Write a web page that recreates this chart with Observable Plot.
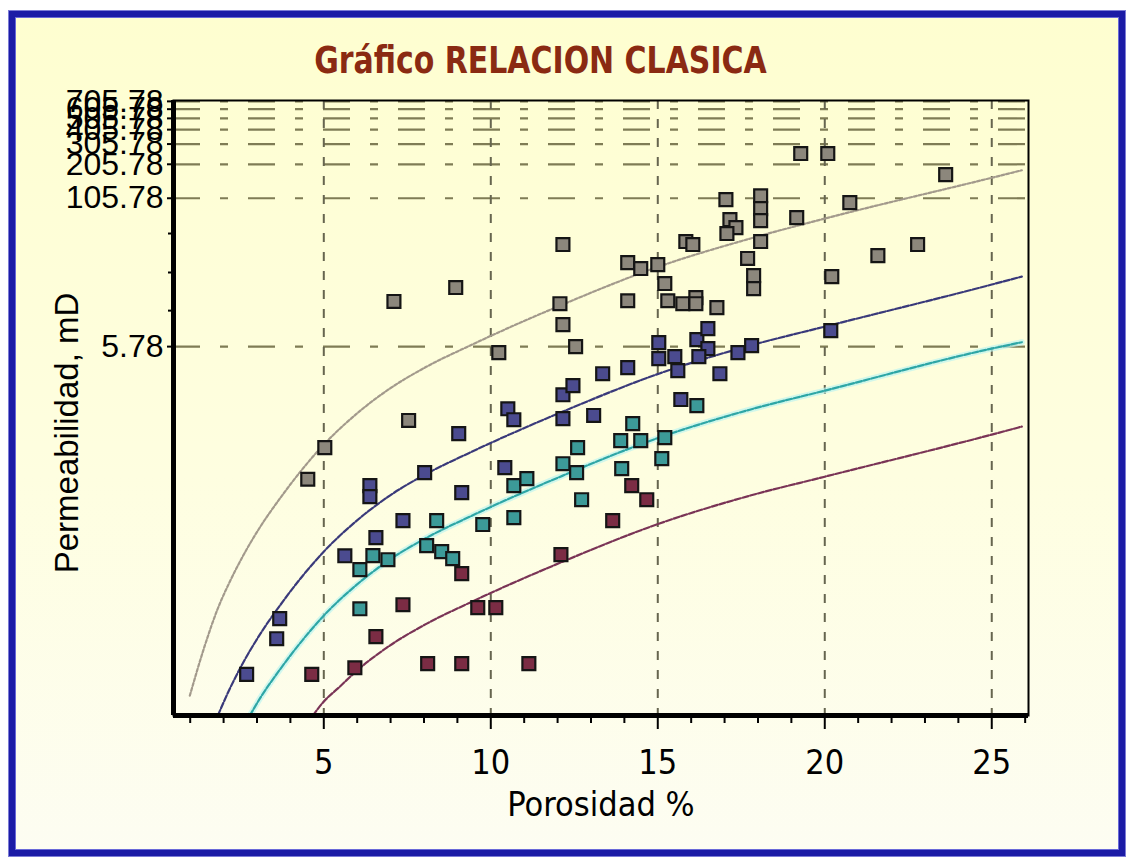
<!DOCTYPE html>
<html>
<head>
<meta charset="utf-8">
<script src="https://cdn.jsdelivr.net/npm/d3@7"></script>
<script src="https://cdn.jsdelivr.net/npm/@observablehq/plot@0.6"></script>
<style>
  html, body { margin: 0; padding: 0; background: #ffffff; }
  body { width: 1132px; height: 864px; position: relative; overflow: hidden; }
  #panel {
    position: absolute; left: 9px; top: 11px; width: 1104px; height: 833px;
    border: 6px solid #1b1ba6;
    box-shadow: inset 0 0 0 1px #6a6ad8, 0 0 0 1px #7c7cd6;
    background: linear-gradient(#fefed0, #fefee0 55%, #fdfdf2);
  }
  #title {
    position: absolute; left: 0; top: 42px; width: 1080px; text-align: center;
  }
  #title span {
    display: inline-block; transform: scaleX(0.9); transform-origin: center;
    font: bold 37px/37px "Liberation Sans Narrow", "DejaVu Sans Condensed", sans-serif;
    color: #8a2a12;
  }
  #chart { position: absolute; left: 0; top: 90px; }
</style>
</head>
<body>
<div id="panel"></div>
<div id="title"><span>Gráfico RELACION CLASICA</span></div>
<div id="chart"></div>
<script>
// Porosity (%) axis
const xDomain = [0.5, 26.1];
const xTicks = [5, 10, 15, 20, 25];
const xMinorTicks = [1, 2, 3, 4, 6, 7, 8, 9, 11, 12, 13, 14, 16, 17, 18, 19, 21, 22, 23, 24, 26];

// Permeability (mD) axis, logarithmic
const yDomain = [0.0042, 718];
const yTicks = [5.78, 105.78, 205.78, 305.78, 405.78, 505.78, 605.78, 705.78];
const yMinorTicks = [11.7, 24.7, 53];

// Samples per rock class: [porosity %, permeability mD]
const claseGris = [
  [7.10, 14.0], [8.95, 18.4], [7.54, 1.36], [5.03, 0.80], [4.52, 0.43],
  [12.16, 42.7], [14.10, 30.0], [14.49, 26.7], [15.0, 28.8], [14.10, 14.2],
  [12.07, 13.4], [12.16, 8.9], [12.54, 5.78], [10.24, 5.14], [15.21, 19.9],
  [15.30, 14.2], [15.75, 13.4], [16.14, 15.1], [16.14, 13.4], [16.77, 12.4],
  [15.84, 45.3], [16.05, 42.7], [17.04, 103], [17.16, 69.7], [17.34, 59.5],
  [17.07, 53.0], [17.69, 32.5], [17.87, 23.2], [17.87, 18.0], [18.08, 111],
  [18.08, 86.4], [18.08, 68.3], [18.08, 45.3], [19.16, 72.4], [19.28, 254],
  [20.09, 254], [20.75, 97.2], [23.62, 168], [21.59, 34.4], [22.78, 42.7],
  [20.21, 22.8]
];
const claseAzul = [
  [2.69, 0.0094], [3.59, 0.0189], [3.68, 0.028], [6.38, 0.379], [6.38, 0.306],
  [5.63, 0.096], [6.56, 0.137], [7.37, 0.191], [8.02, 0.49], [9.13, 0.331],
  [9.04, 1.05], [10.51, 1.71], [10.69, 1.38], [10.42, 0.54], [12.16, 2.25],
  [12.46, 2.69], [12.16, 1.41], [13.08, 1.50], [13.35, 3.40], [14.10, 3.83],
  [15.03, 6.25], [15.03, 4.57], [15.51, 4.75], [15.60, 3.61], [16.17, 6.63],
  [16.50, 8.22], [16.50, 5.56], [16.23, 4.75], [16.86, 3.40], [17.40, 5.14],
  [17.81, 5.89], [20.18, 7.91], [15.69, 2.05]
];
const claseTurquesa = [
  [6.08, 0.0731], [6.47, 0.0962], [6.92, 0.0889], [6.08, 0.034], [8.38, 0.191],
  [8.08, 0.117], [8.53, 0.104], [8.86, 0.0908], [9.76, 0.177], [10.69, 0.203],
  [10.69, 0.379], [11.08, 0.435], [12.16, 0.583], [12.60, 0.80], [12.57, 0.49],
  [12.72, 0.288], [13.89, 0.916], [14.25, 1.28], [14.49, 0.916], [13.92, 0.53],
  [15.21, 0.972], [15.12, 0.644], [16.17, 1.82]
];
const claseGranate = [
  [4.64, 0.0094], [5.93, 0.0107], [6.56, 0.0197], [7.37, 0.0368], [8.11, 0.0116],
  [9.13, 0.0116], [9.13, 0.0676], [9.61, 0.0348], [10.15, 0.0348], [11.14, 0.0116],
  [12.10, 0.0982], [13.65, 0.191], [14.22, 0.379], [14.67, 0.288]
];

// Classic porosity-permeability relation curves, one per class
const curvaGris = [
  [0.988, 0.00619], [1.437, 0.0165], [1.826, 0.0341], [2.186, 0.0578], [2.635, 0.102],
  [3.084, 0.167], [3.683, 0.294], [4.371, 0.529], [4.970, 0.830], [5.988, 1.555],
  [6.886, 2.44], [8.084, 3.91], [9.371, 5.89], [12.156, 13.2], [15.03, 27.7],
  [17.754, 47.9], [20.0, 71.0], [25.0, 158], [25.9, 183]
];
const curvaAzul = [
  [1.826, 0.00419], [2.186, 0.0071], [2.635, 0.01253], [3.084, 0.02046], [3.683, 0.0361],
  [4.371, 0.0650], [4.970, 0.102], [5.988, 0.191], [6.886, 0.300], [8.084, 0.480],
  [9.371, 0.724], [12.156, 1.618], [15.03, 3.40], [17.754, 5.89], [20.0, 8.55],
  [25.0, 19.5], [25.9, 22.8]
];
const curvaTurquesa = [
  [2.784, 0.00419], [3.084, 0.00584], [3.683, 0.0103], [4.371, 0.0185], [4.970, 0.0291],
  [5.988, 0.0545], [6.886, 0.0856], [8.084, 0.137], [9.371, 0.2065], [12.156, 0.4615],
  [15.03, 0.970], [17.754, 1.68], [20.0, 2.44], [25.0, 5.56], [25.9, 6.3]
];
const curvaGranate = [
  [4.671, 0.00419], [4.970, 0.0054], [5.479, 0.00739], [5.988, 0.0101], [6.886, 0.01587],
  [8.084, 0.0254], [9.371, 0.0383], [12.156, 0.0856], [15.03, 0.1798], [17.754, 0.3115],
  [20.0, 0.452], [25.0, 1.031], [25.9, 1.206]
];

const puntoColor = ["#8c877c", "#4b4b8f", "#3c9a98", "#7b2c44"];
const curvaColor = ["#a39a8c", "#3a3a7a", "#2ea6a6", "#7a3456"];
const curvaTrazo = ["3,2", "6,2", "6,2", "6,2"];

const clases = [claseGris, claseAzul, claseTurquesa, claseGranate];
const curvas = [curvaGris, curvaAzul, curvaTurquesa, curvaGranate];

const px = d => d[0], py = d => d[1];
const sans = "'Liberation Sans', Arial, sans-serif";
const narrow = "'Liberation Sans Narrow', 'DejaVu Sans Condensed', sans-serif";

const chart = Plot.plot({
  width: 1132,
  height: 774,
  marginLeft: 173,
  marginRight: 104,
  marginTop: 10,
  marginBottom: 149,
  style: { background: "none", fontFamily: sans, color: "#000", overflow: "visible" },
  x: { domain: xDomain },
  y: { type: "log", domain: yDomain },
  marks: [
    // dash-dot grid
    Plot.ruleY(yTicks, { stroke: "#7f7c55", strokeWidth: 2.2, strokeDasharray: "27,20,8,20" }),
    Plot.ruleX(xTicks, { stroke: "#66654f", strokeWidth: 2, strokeDasharray: "9,10" }),

    // soft halo under the turquoise curve
    Plot.line(curvaTurquesa, { x: px, y: py, stroke: "#bdf3f0", strokeWidth: 6, strokeOpacity: 0.7, curve: "monotone-x", clip: true }),

    // relation curves
    ...curvas.map((c, i) => Plot.line(c, {
      x: px, y: py, stroke: curvaColor[i], strokeWidth: 2.2,
      strokeDasharray: curvaTrazo[i], curve: "monotone-x", clip: true
    })),

    // samples
    ...clases.map((c, i) => Plot.dot(c, {
      x: px, y: py, symbol: "square", r: 7.3,
      fill: puntoColor[i], stroke: "#151515", strokeWidth: 2.2
    })),

    // plot box: thin top/right, heavy left/bottom
    Plot.frame({ stroke: "#000", strokeWidth: 2 }),
    Plot.ruleX([xDomain[0]], { stroke: "#000", strokeWidth: 5 }),
    Plot.ruleY([yDomain[0]], { stroke: "#000", strokeWidth: 5 }),

    // axes
    Plot.axisX(xTicks, {
      tickSize: 14, tickPadding: 20, strokeWidth: 2, fontSize: 34,
      fontFamily: narrow, label: null
    }),
    Plot.axisX(xMinorTicks, { tickSize: 8, strokeWidth: 2, tickFormat: () => "", label: null }),
    Plot.axisY(yTicks, { tickSize: 6, strokeWidth: 2, tickFormat: () => "", label: null }),
    Plot.axisY(yMinorTicks, { tickSize: 5, strokeWidth: 2, tickFormat: () => "", label: null }),
    Plot.text(yTicks, {
      y: d => d, frameAnchor: "left", dx: -10, textAnchor: "end",
      text: d => d.toFixed(2), fontSize: 32, fill: "#000"
    }),

    // axis titles
    Plot.text(["Porosidad %"], {
      frameAnchor: "bottom", dy: 100, fontSize: 34, fontFamily: narrow, fill: "#000"
    }),
    Plot.text(["Permeabilidad, mD"], {
      frameAnchor: "left", textAnchor: "middle", dx: -106, dy: 25, rotate: -90,
      fontSize: 33, fontFamily: sans, fill: "#000"
    })
  ]
});

document.getElementById("chart").appendChild(chart);
</script>
</body>
</html>
